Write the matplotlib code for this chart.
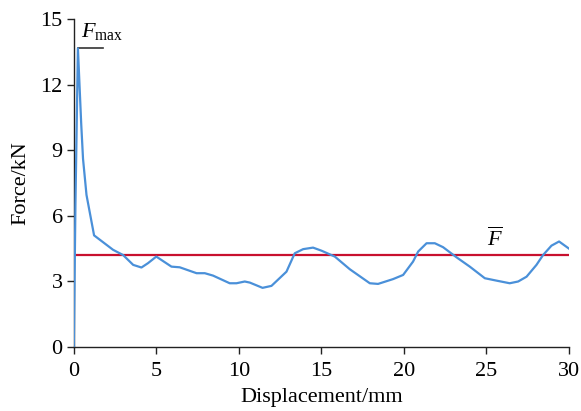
import numpy as np
import matplotlib
matplotlib.use("Agg")
import matplotlib.pyplot as plt

plt.rcParams['font.family'] = 'Liberation Serif'
plt.rcParams['mathtext.fontset'] = 'custom'
plt.rcParams['mathtext.rm'] = 'Liberation Serif'
plt.rcParams['mathtext.it'] = 'Liberation Serif:italic'

# datos
desplazamiento = [0, 0.1, 0.25, 0.45, 0.56, 0.77, 1.23, 2.38, 2.99, 3.6, 4.1, 4.5, 5.0,
                  5.92, 6.42, 7.44, 7.94, 8.44, 9.45, 9.86, 10.36, 10.67, 11.44, 11.98,
                  12.89, 13.39, 13.9, 14.5, 15.01, 15.82, 16.73, 17.94, 18.44, 19.35,
                  19.96, 20.56, 20.87, 21.38, 21.88, 22.38, 23.19, 24.0, 24.91, 25.62,
                  26.42, 26.93, 27.44, 28.04, 28.44, 28.95, 29.41, 30.0]
fuerza = [0, 6.5, 13.65, 10.2, 8.6, 6.95, 5.1, 4.44, 4.2, 3.75, 3.63, 3.83, 4.13,
          3.67, 3.64, 3.37, 3.37, 3.26, 2.91, 2.91, 2.99, 2.94, 2.7, 2.79,
          3.44, 4.28, 4.47, 4.54, 4.4, 4.13, 3.55, 2.91, 2.88, 3.1,
          3.29, 3.9, 4.36, 4.74, 4.74, 4.56, 4.1, 3.67, 3.14, 3.03,
          2.91, 2.99, 3.21, 3.75, 4.2, 4.63, 4.82, 4.5]
fuerza_media = 4.2
fuerza_max = 13.65
x_ticks = [0, 5, 10, 15, 20, 25, 30]
y_ticks = [0, 3, 6, 9, 12, 15]

fig = plt.figure(figsize=(5.81, 4.11), dpi=100)
ax = fig.add_axes([0.127, 0.156, 0.852, 0.798])

ax.plot(desplazamiento, fuerza, color='#4a90d9', lw=1.6, zorder=3)
ax.axhline(fuerza_media, color='#c8102e', lw=1.6, zorder=2)
ax.plot([0.24, 1.76], [fuerza_max, fuerza_max], color='#333333', lw=1.2)

ax.text(0.45, 13.95, r'$F_{\rm max}$', fontsize=16, ha='left', va='bottom')
ax.text(25.5, 4.4, r'$\overline{F}$', fontsize=16, ha='center', va='bottom')

ax.set_xlim(0, 30)
ax.set_ylim(0, 15)
ax.set_xticks(x_ticks)
ax.set_yticks(y_ticks)
ax.tick_params(direction='out', length=5, width=1.0, colors='#222222',
               labelcolor='black', labelsize=16)
ax.tick_params(axis='x', pad=6)
ax.tick_params(axis='y', pad=3)
for lado in ['top', 'right']:
    ax.spines[lado].set_visible(False)
for lado in ['left', 'bottom']:
    ax.spines[lado].set_linewidth(1.0)
    ax.spines[lado].set_color('#222222')
ax.set_xlabel('Displacement/mm', fontsize=16, labelpad=5)
ax.set_ylabel('Force/kN', fontsize=16, labelpad=7)

fig.savefig('out.png', dpi=100)
